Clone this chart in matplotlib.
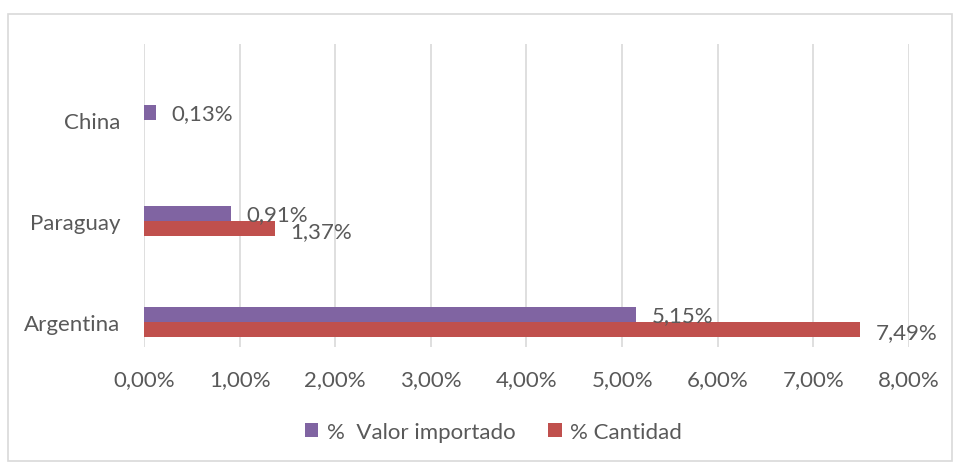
import numpy as np
import matplotlib.pyplot as plt
from matplotlib.patches import Rectangle

countries = ["Argentina", "Paraguay", "China"]
valor = [5.15, 0.91, 0.13]
cantidad = [7.49, 1.37, 0.0]
valor_labels = ["5,15%", "0,91%", "0,13%"]
cantidad_labels = ["7,49%", "1,37%", None]
xticks = [0, 1, 2, 3, 4, 5, 6, 7, 8]

purple = "#8064A2"
red = "#C0504D"
grey = "#595959"
grid = "#D9D9D9"

plt.rcParams["font.family"] = ["Lato", "DejaVu Sans"]
fs = 16

fig = plt.figure(figsize=(9.55, 4.64), dpi=100)
ax = fig.add_axes([0.1508, 0.25, 0.801, 0.653])

y = np.arange(len(countries))
h = 0.15
ax.barh(y + h / 2, valor, height=h, color=purple, label="%  Valor importado")
ax.barh(y - h / 2, cantidad, height=h, color=red, label="% Cantidad")

for yi, v, lab in zip(y, valor, valor_labels):
    ax.annotate(lab, (v, yi + h / 2), xytext=(11, -1), textcoords="offset points",
                va="center", ha="left", fontsize=fs, color=grey)
for yi, v, lab in zip(y, cantidad, cantidad_labels):
    if lab:
        ax.annotate(lab, (v, yi - h / 2), xytext=(11, -2), textcoords="offset points",
                    va="center", ha="left", fontsize=fs, color=grey)

ax.set_xlim(0, 8)
ax.set_ylim(-0.25, 2.75)
ax.set_xticks(xticks)
ax.set_xticklabels([f"{t},00%" for t in xticks])
ax.set_yticks(y)
ax.set_yticklabels(countries)
ax.tick_params(length=0, labelsize=fs, colors=grey)
ax.tick_params(axis="x", pad=16)
ax.tick_params(axis="y", pad=17)
ax.grid(axis="x", color=grid, linewidth=1.2)
ax.set_axisbelow(True)
for s in ax.spines.values():
    s.set_visible(False)

leg = fig.legend(loc="center", bbox_to_anchor=(0.517, 0.067), ncol=2, frameon=False,
                 fontsize=fs, handlelength=0.6, handleheight=0.6, columnspacing=1.45,
                 handletextpad=0.4)
for t in leg.get_texts():
    t.set_color(grey)

fig.patches.append(Rectangle((8 / 955, 2 / 464), 944 / 955, 447 / 464,
                             transform=fig.transFigure, fill=False,
                             edgecolor=grid, linewidth=1.2))

fig.savefig("out.png", dpi=100)
